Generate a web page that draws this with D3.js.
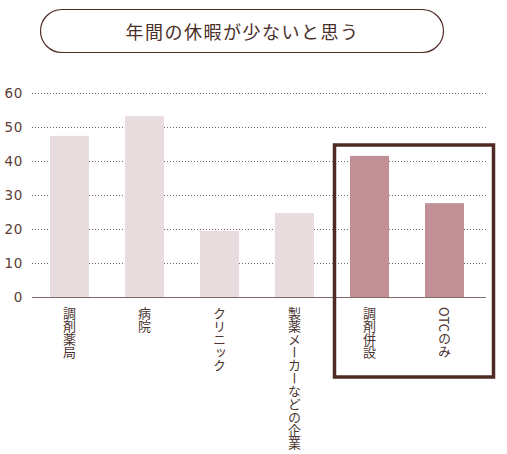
<!DOCTYPE html>
<html>
<head>
<meta charset="utf-8">
<script src="https://cdn.jsdelivr.net/npm/d3@7"></script>
<style>
  body { margin: 0; background: #fff; }
  svg { display: block; }
</style>
</head>
<body>
<div id="chart"></div>
<script>
'use strict'

// data
const title = '年間の休暇が少ないと思う'
const categories = ['調剤薬局', '病院', 'クリニック', '製薬メーカーなどの企業', '調剤併設', 'OTCのみ']
const values = [47.4, 53.2, 19.4, 24.7, 41.5, 27.6]
const highlighted = ['調剤併設', 'OTCのみ']
const yTicks = [0, 10, 20, 30, 40, 50, 60]

const svgWidth = 507, svgHeight = 454
const textColor = '#5b3c36'
const boxColor = '#4f2a25'

const svg = d3.select('#chart')
    .append('svg')
    .attr('width', svgWidth)
    .attr('height', svgHeight)

// title pill
svg.append('rect')
    .attr('x', 40.5).attr('y', 9.5)
    .attr('width', 403).attr('height', 43)
    .attr('rx', 21.5)
    .attr('fill', 'none')
    .attr('stroke', boxColor)
    .attr('stroke-width', 1.2)

svg.append('text')
    .attr('x', 242.5).attr('y', 31)
    .attr('text-anchor', 'middle')
    .attr('dominant-baseline', 'central')
    .style('font-family', '"Noto Sans CJK JP", sans-serif')
    .style('font-size', '18px')
    .style('letter-spacing', '1.5px')
    .attr('fill', '#4a2f2a')
    .text(title)

// scales
const x = d3.scaleBand()
    .domain(categories)
    .range([32, 482])
    .paddingInner(0.48)
    .paddingOuter(0.24)

const y = d3.scaleLinear()
    .domain([0, 60])
    .range([297, 93])

// grid lines
svg.append('g')
    .selectAll('line')
    .data(yTicks.filter(d => d > 0))
    .join('line')
    .attr('x1', 32).attr('x2', 486)
    .attr('y1', d => Math.round(y(d)) + 0.5)
    .attr('y2', d => Math.round(y(d)) + 0.5)
    .attr('stroke', '#7a6a66')
    .attr('stroke-width', 1)
    .attr('stroke-dasharray', '1,2')

// y labels
svg.append('g')
    .selectAll('text')
    .data(yTicks)
    .join('text')
    .attr('x', 23)
    .attr('y', d => y(d))
    .attr('text-anchor', 'end')
    .attr('dominant-baseline', 'central')
    .style('font-family', '"DejaVu Sans", sans-serif')
    .style('font-size', '13.5px')
    .style('letter-spacing', '0.6px')
    .attr('fill', textColor)
    .text(d => d)

// bars
svg.append('g')
    .selectAll('rect')
    .data(categories)
    .join('rect')
    .attr('x', d => x(d))
    .attr('width', x.bandwidth())
    .attr('y', (d, i) => y(values[i]))
    .attr('height', (d, i) => y(0) - y(values[i]))
    .attr('fill', d => highlighted.includes(d) ? '#c09096' : '#e9dcdf')

// baseline
svg.append('line')
    .attr('x1', 32).attr('x2', 486)
    .attr('y1', y(0) + 0.5).attr('y2', y(0) + 0.5)
    .attr('stroke', '#7d6b66')
    .attr('stroke-width', 1)

// category labels, vertical
svg.append('g')
    .selectAll('text')
    .data(categories)
    .join('text')
    .attr('x', d => x(d) + x.bandwidth() / 2)
    .attr('y', 307)
    .attr('text-anchor', 'start')
    .style('writing-mode', 'vertical-rl')
    .style('text-orientation', 'mixed')
    .style('font-family', '"Noto Sans CJK JP", sans-serif')
    .style('font-size', '13px')
    .attr('fill', '#4a3430')
    .text(d => d)

// highlight box
svg.append('rect')
    .attr('x', 334.5).attr('y', 145)
    .attr('width', 159).attr('height', 232)
    .attr('fill', 'none')
    .attr('stroke', boxColor)
    .attr('stroke-width', 3.5)
</script>
</body>
</html>
